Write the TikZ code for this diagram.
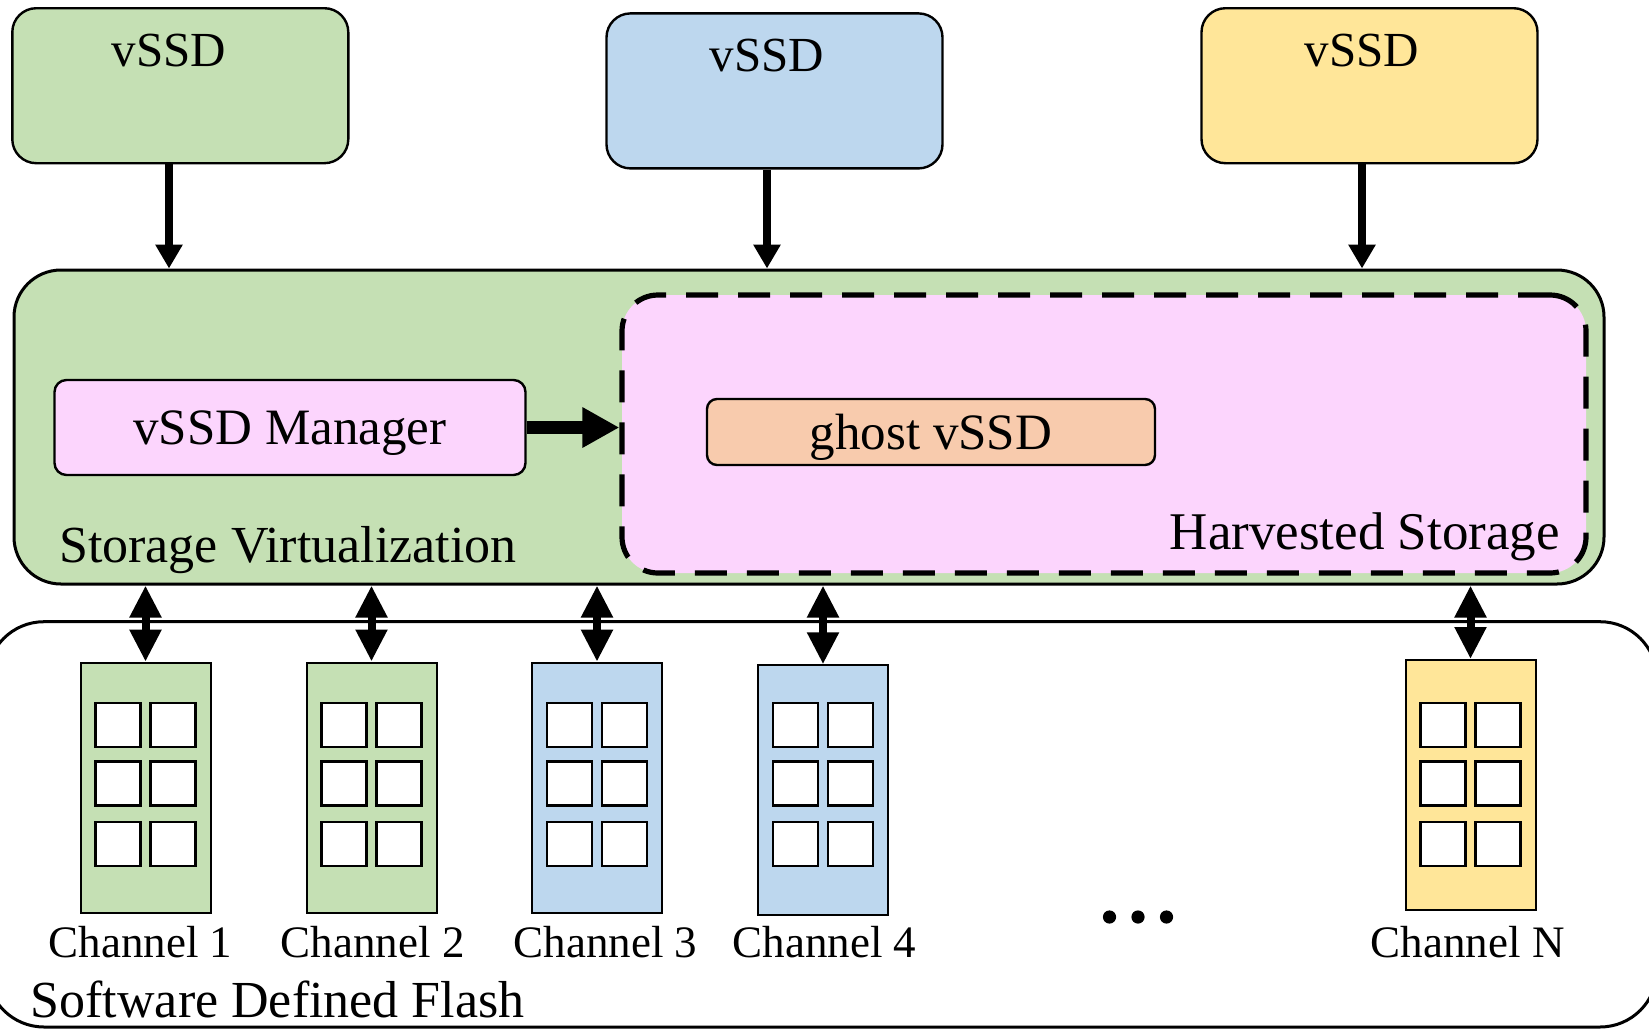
\documentclass[tikz,border=0pt]{standalone}
\usepackage{fontspec}
\setmainfont{Liberation Serif}
\usetikzlibrary{arrows.meta}
\definecolor{sgreen}{HTML}{C5E0B4}
\definecolor{sblue}{HTML}{BDD7EE}
\definecolor{syellow}{HTML}{FFE699}
\definecolor{spink}{HTML}{FCD5FD}
\definecolor{sorange}{HTML}{F8CBAD}

\begin{document}
\begin{tikzpicture}[x=0.5pt,y=-0.5pt,line width=1.2pt,>=Triangle,
  vbox/.style={draw,rounded corners=12pt,minimum width=168pt,minimum height=77.5pt},
  inbox/.style={draw,inner sep=2pt,text depth=0pt,font=\fontsize{25.5}{30}\selectfont},
  lbl/.style={inner sep=0pt,font=\fontsize{26}{30}\selectfont},
  chbox/.style={draw,line width=1pt,minimum width=65pt,minimum height=125pt,anchor=north},
  chtxt/.style={inner sep=0pt,anchor=base,font=\fontsize{22.5}{27}\selectfont},
  down/.style={line width=3.6pt,-{Triangle[length=12pt,width=13pt]}},
  both/.style={line width=4pt,{Triangle[length=16pt,width=15pt]}-{Triangle[length=16pt,width=15pt]}},
  push/.style={line width=6.3pt,-{Triangle[length=18.5pt,width=19pt]}}]
\useasboundingbox (0,0) rectangle (1649,1029);
% software defined flash (runs past the page edges)
\begin{scope}
  \clip (0,0) rectangle (1649,1029);
  \draw[line width=1.5pt,rounded corners=28.5pt] (-13,621.7) rectangle (1657,1027);
\end{scope}
\node[lbl,anchor=base west] (sdftxt) at (29.5,1017) {Software Defined Flash};
% storage virtualization layer
\node[draw,fill=sgreen,line width=1.5pt,rounded corners=23.5pt,minimum width=795pt,minimum height=157pt] (sv) at (809,427) {};
\node[draw,fill=spink,line width=2.6pt,dash pattern=on 16pt off 10pt,rounded corners=18pt,minimum width=482pt,minimum height=139pt] (hs) at (1104,434) {};
\node[inbox,fill=spink,rounded corners=6pt,minimum width=235.5pt,minimum height=47.5pt] (mgr) at (290,427.5) {vSSD Manager};
\node[inbox,fill=sorange,rounded corners=5pt,minimum width=224pt,minimum height=33pt] (ghost) at (931,432) {ghost vSSD};
\node[lbl,anchor=base west] (svtxt) at (58,562.5) {Storage Virtualization};
\node[lbl,anchor=base east,font=\fontsize{26.5}{30}\selectfont] (hstxt) at (1561,549) {Harvested Storage};
\draw[push] (mgr.east) -- (mgr.east -| hs.west);
% vSSDs on top
\node[vbox,fill=sgreen] (vssdA) at (180.3,85.7) {};
\node[vbox,fill=sblue] (vssdB) at (774.5,90.9) {};
\node[vbox,fill=syellow] (vssdC) at (1369.5,85.7) {};
\foreach \v/\x/\y in {A/169/66,B/767/71.5,C/1362/66}{
  \node[chtxt,font=\fontsize{24.5}{28}\selectfont] (vssd\v txt) at (\x,\y) {vSSD};
  \draw[down] (vssd\v txt |- vssd\v.south) -- (vssd\v txt |- sv.north);
}
% channels with their blocks (rows of blocks line up across channels)
\foreach \n/\c/\x/\y/\lx/\t in {ch1/sgreen/145.5/661.7/140.4/Channel 1,
    ch2/sgreen/371.5/661.5/372.8/Channel 2,
    ch3/sblue/597/661.7/605.6/Channel 3,
    ch4/sblue/823/664.3/824.5/Channel 4,
    chN/syellow/1470.5/659/1467.7/Channel N}{
  \node[chbox,fill=\c] (\n) at (\x,\y) {};
  \foreach \i in {-27.5,27.5}
    \foreach \j in {725,783.5,844}
      \draw[fill=white,line width=1.3pt] (\x+\i-22.5,\j-22) rectangle ++(45,44);
  \node[chtxt] (\n-lbl) at (\lx,957) {\t};
  \draw[both] (\n.north |- sv.south) -- (\n.north);
}
\foreach \x in {1109.5,1138,1166.5}
  \fill (\x,917) circle (3.3pt);
\end{tikzpicture}
\end{document}
